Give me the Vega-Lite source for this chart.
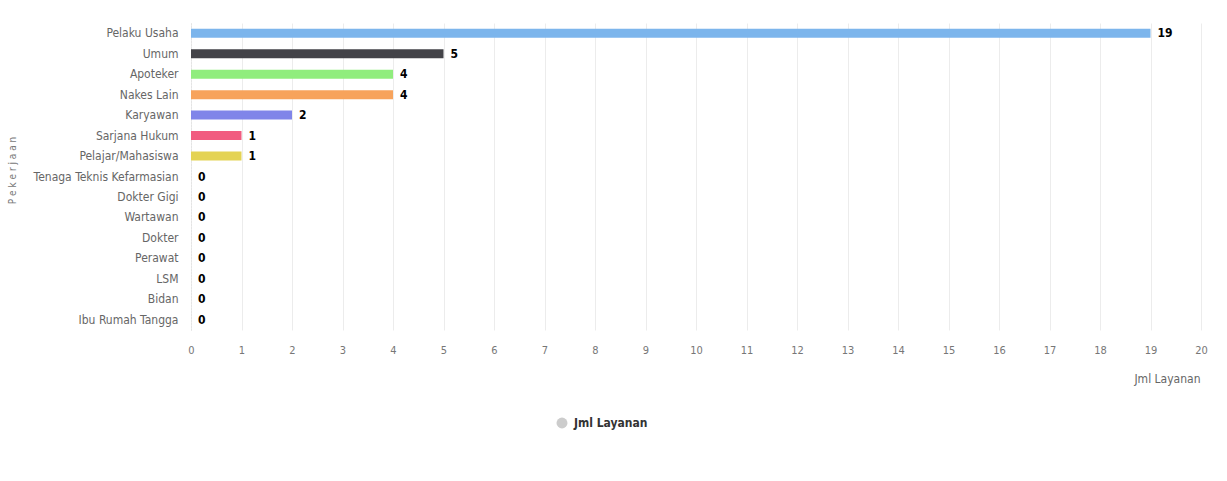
{
  "$schema": "https://vega.github.io/schema/vega-lite/v6.json",
  "width": 1010,
  "height": 307,
  "autosize": "none",
  "padding": {"left": 191, "top": 23, "right": 26, "bottom": 151},
  "background": "white",
  "config": {"view": {"stroke": null}, "font": "DejaVu Sans Condensed, Roboto, sans-serif"},
  "data": {"values": [
    {"Pekerjaan": "Pelaku Usaha", "Jml": 19, "series": "Jml Layanan"},
    {"Pekerjaan": "Umum", "Jml": 5, "series": "Jml Layanan"},
    {"Pekerjaan": "Apoteker", "Jml": 4, "series": "Jml Layanan"},
    {"Pekerjaan": "Nakes Lain", "Jml": 4, "series": "Jml Layanan"},
    {"Pekerjaan": "Karyawan", "Jml": 2, "series": "Jml Layanan"},
    {"Pekerjaan": "Sarjana Hukum", "Jml": 1, "series": "Jml Layanan"},
    {"Pekerjaan": "Pelajar/Mahasiswa", "Jml": 1, "series": "Jml Layanan"},
    {"Pekerjaan": "Tenaga Teknis Kefarmasian", "Jml": 0, "series": "Jml Layanan"},
    {"Pekerjaan": "Dokter Gigi", "Jml": 0, "series": "Jml Layanan"},
    {"Pekerjaan": "Wartawan", "Jml": 0, "series": "Jml Layanan"},
    {"Pekerjaan": "Dokter", "Jml": 0, "series": "Jml Layanan"},
    {"Pekerjaan": "Perawat", "Jml": 0, "series": "Jml Layanan"},
    {"Pekerjaan": "LSM", "Jml": 0, "series": "Jml Layanan"},
    {"Pekerjaan": "Bidan", "Jml": 0, "series": "Jml Layanan"},
    {"Pekerjaan": "Ibu Rumah Tangga", "Jml": 0, "series": "Jml Layanan"}
  ]},
  "encoding": {
    "y": {
      "field": "Pekerjaan", "type": "nominal", "sort": null,
      "scale": {"paddingInner": 0.56, "paddingOuter": 0.28},
      "axis": {
        "title": "P e k e r j a a n", "titleFontSize": 10, "titleFontWeight": "normal", "titleColor": "#777777",
        "titleAngle": 270, "titleX": -179, "titleY": 147, "titleAlign": "center", "titleBaseline": "middle",
        "labelFontSize": 12, "labelColor": "#666666", "labelPadding": 13,
        "ticks": false, "domain": true, "domainColor": "#dddddd", "domainDash": [1, 2]
      }
    },
    "x": {
      "field": "Jml", "type": "quantitative",
      "scale": {"domain": [0, 20], "nice": false},
      "axis": {
        "title": "Jml Layanan", "titleFontSize": 12, "titleFontWeight": "normal", "titleColor": "#666666",
        "titleAnchor": "end", "titleAlign": "right", "titleX": 1009, "titleY": 48, "titleBaseline": "middle",
        "labelFontSize": 11, "labelColor": "#777777", "labelPadding": 14,
        "labelOverlap": false, "labelFlush": false,
        "values": [0,1,2,3,4,5,6,7,8,9,10,11,12,13,14,15,16,17,18,19,20],
        "ticks": false, "domain": false, "grid": true, "gridColor": "#ececec"
      }
    }
  },
  "layer": [
    {
      "mark": {"type": "bar", "strokeWidth": 0},
      "encoding": {
        "color": {
          "field": "Pekerjaan", "type": "nominal", "sort": null, "legend": null,
          "scale": {"range": ["#7cb5ec", "#434348", "#90ed7d", "#f7a35c", "#8085e9", "#f15c80", "#e4d354", "#2b908f", "#f45b5b", "#91e8e1", "#7cb5ec", "#434348", "#90ed7d", "#f7a35c", "#8085e9"]}
        },
        "stroke": {
          "field": "series", "type": "nominal",
          "scale": {"range": ["#cccccc"]},
          "legend": {
            "title": null, "orient": "none", "legendX": 365, "legendY": 394,
            "symbolType": "circle", "symbolFillColor": "#cccccc", "symbolStrokeColor": "#cccccc",
            "symbolStrokeWidth": 0, "symbolSize": 120, "symbolOpacity": 1,
            "labelFontSize": 12, "labelFontWeight": "bold", "labelColor": "#333333", "labelOffset": 6
          }
        }
      }
    },
    {
      "mark": {"type": "text", "align": "left", "baseline": "middle", "dx": 7, "fontWeight": "bold", "fontSize": 12, "color": "#000000"},
      "encoding": {"text": {"field": "Jml", "type": "quantitative"}}
    }
  ]
}
